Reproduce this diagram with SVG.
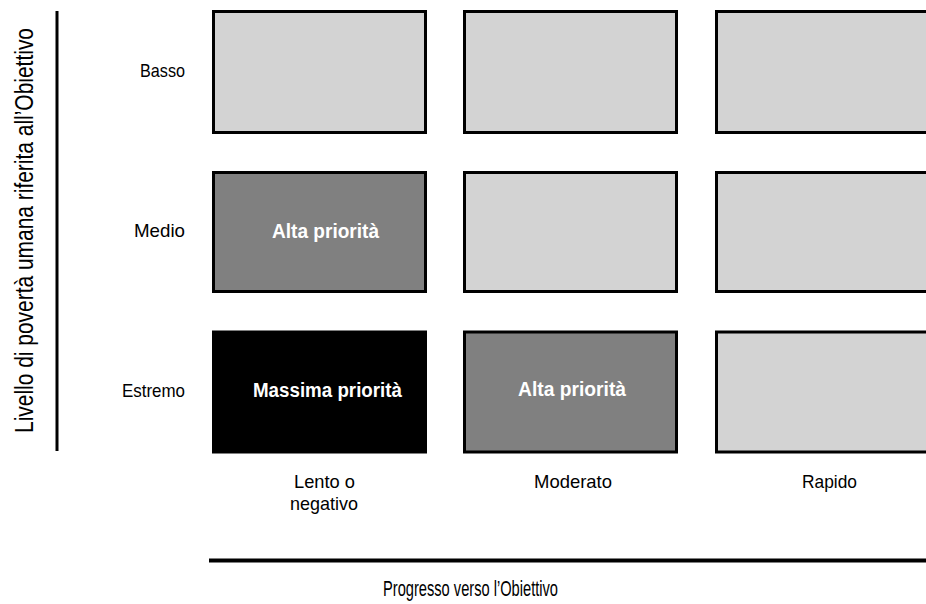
<svg xmlns="http://www.w3.org/2000/svg" width="926" height="604" viewBox="0 0 926 604">
<style>
.cell{stroke:#000;stroke-width:3}
.light{fill:#d3d3d3}
.mid{fill:#808080}
.dark{fill:#000}
text{font-family:"Liberation Sans",Arial,sans-serif;fill:#000}
.lbl{font-size:19px}
.in{font-size:20px;font-weight:bold;fill:#fff}
.axis{font-size:22px}
.vaxis{font-size:25px}
</style>
<rect width="926" height="604" fill="#fff"/>
<g id="connectors">
<line x1="57" y1="11" x2="57" y2="451" stroke="#000" stroke-width="3"/>
<line x1="209" y1="560.5" x2="926" y2="560.5" stroke="#000" stroke-width="4"/>
</g>
<g id="axis-labels">
<text class="vaxis" transform="translate(33,433) rotate(-90)" textLength="405" lengthAdjust="spacingAndGlyphs">Livello di povertà umana riferita all’Obiettivo</text>
<text class="axis" x="383" y="596" textLength="175" lengthAdjust="spacingAndGlyphs">Progresso verso l’Obiettivo</text>
</g>
<g id="row-labels">
<text class="lbl" x="140" y="77" textLength="45" lengthAdjust="spacingAndGlyphs">Basso</text>
<text class="lbl" x="134" y="237" textLength="51" lengthAdjust="spacingAndGlyphs">Medio</text>
<text class="lbl" x="122" y="397" textLength="63" lengthAdjust="spacingAndGlyphs">Estremo</text>
</g>
<g id="col-labels">
<text class="lbl" x="294" y="488" textLength="61" lengthAdjust="spacingAndGlyphs">Lento o</text>
<text class="lbl" x="290" y="510" textLength="68" lengthAdjust="spacingAndGlyphs">negativo</text>
<text class="lbl" x="534" y="488" textLength="78" lengthAdjust="spacingAndGlyphs">Moderato</text>
<text class="lbl" x="802" y="488" textLength="55" lengthAdjust="spacingAndGlyphs">Rapido</text>
</g>
<g id="cell-basso-lento"><rect class="cell light" x="213.5" y="11.5" width="212" height="121"/></g>
<g id="cell-basso-moderato"><rect class="cell light" x="464.5" y="11.5" width="212" height="121"/></g>
<g id="cell-basso-rapido"><rect class="cell light" x="716.5" y="11.5" width="212" height="121"/></g>
<g id="cell-medio-lento"><rect class="cell mid" x="213.5" y="172.5" width="212" height="119"/>
<text class="in" x="272" y="238" textLength="107" lengthAdjust="spacingAndGlyphs">Alta priorità</text></g>
<g id="cell-medio-moderato"><rect class="cell light" x="464.5" y="172.5" width="212" height="119"/></g>
<g id="cell-medio-rapido"><rect class="cell light" x="716.5" y="172.5" width="212" height="119"/></g>
<g id="cell-estremo-lento"><rect class="cell dark" x="213.5" y="332" width="212" height="120"/>
<text class="in" x="253" y="397" textLength="149" lengthAdjust="spacingAndGlyphs">Massima priorità</text></g>
<g id="cell-estremo-moderato"><rect class="cell mid" x="464.5" y="332" width="212" height="120"/>
<text class="in" x="518" y="396" textLength="108" lengthAdjust="spacingAndGlyphs">Alta priorità</text></g>
<g id="cell-estremo-rapido"><rect class="cell light" x="716.5" y="332" width="212" height="120"/></g>
</svg>
